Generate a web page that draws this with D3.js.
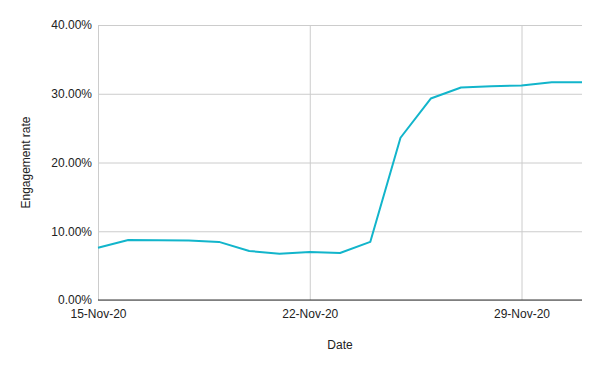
<!DOCTYPE html>
<html lang="en">
<head>
<meta charset="utf-8">
<title>Engagement rate</title>
<script src="https://d3js.org/d3.v7.min.js"></script>
<style>
  body { margin: 0; background: #fff; }
  text { font-family: Arial, "Liberation Sans", sans-serif; }
</style>
</head>
<body>
<script>
// data
var dates = ["2020-11-15", "2020-11-16", "2020-11-17", "2020-11-18", "2020-11-19",
             "2020-11-20", "2020-11-21", "2020-11-22", "2020-11-23", "2020-11-24",
             "2020-11-25", "2020-11-26", "2020-11-27", "2020-11-28", "2020-11-29",
             "2020-11-30", "2020-12-01"];
var rates = [0.076, 0.0873, 0.087, 0.0865, 0.0845, 0.0713, 0.0674, 0.0698, 0.0684, 0.0845,
             0.236, 0.293, 0.309, 0.311, 0.312, 0.3166, 0.3166];
var yTicks = [0, 0.1, 0.2, 0.3, 0.4];
var xTicks = ["2020-11-15", "2020-11-22", "2020-11-29"];

var parse = d3.timeParse("%Y-%m-%d");
var data = dates.map((d, i) => ({date: parse(d), v: rates[i]}));

var W = 600, H = 371;
var m = {left: 98, right: 18, top: 25, bottom: 71};

var svg = d3.select("body").append("svg")
    .attr("width", W)
    .attr("height", H);

var x = d3.scaleTime()
    .domain(d3.extent(data, d => d.date))
    .range([m.left, W - m.right]);

var y = d3.scaleLinear()
    .domain([0, 0.4])
    .range([H - m.bottom, m.top]);

// horizontal gridlines + labels
var yAxis = svg.append("g")
    .attr("transform", "translate(" + m.left + ",0)")
    .call(d3.axisLeft(y)
        .tickValues(yTicks)
        .tickSize(-(W - m.left - m.right))
        .tickPadding(6)
        .tickFormat(d3.format(".2%")));
yAxis.select(".domain").remove();
yAxis.selectAll("line").attr("stroke", "#cccccc");
yAxis.selectAll("text").attr("fill", "#222").style("font-size", "12px");

// vertical gridlines
var xAxis = svg.append("g")
    .attr("transform", "translate(0," + (H - m.bottom) + ")")
    .call(d3.axisBottom(x)
        .tickValues(xTicks.map(parse))
        .tickSize(-(H - m.top - m.bottom))
        .tickPadding(9)
        .tickFormat(d3.timeFormat("%-d-%b-%y")));
xAxis.select(".domain").remove();
xAxis.selectAll("line").attr("stroke", "#cccccc");
xAxis.selectAll("text").attr("fill", "#222").style("font-size", "12px");

// baseline
svg.append("line")
    .attr("x1", m.left)
    .attr("x2", W - m.right)
    .attr("y1", y(0))
    .attr("y2", y(0))
    .attr("stroke", "#333")
    .attr("stroke-width", 1);

var line = d3.line()
    .x(d => x(d.date))
    .y(d => y(d.v));

svg.append("path")
    .datum(data)
    .attr("d", line)
    .attr("fill", "none")
    .attr("stroke", "#12b5cb")
    .attr("stroke-width", 2)
    .attr("stroke-linejoin", "round");

// axis titles
svg.append("text")
    .attr("x", (m.left + W - m.right) / 2)
    .attr("y", 349)
    .attr("text-anchor", "middle")
    .attr("fill", "#222")
    .style("font-size", "12px")
    .text("Date");

svg.append("text")
    .attr("transform", "translate(30," + ((m.top + H - m.bottom) / 2) + ") rotate(-90)")
    .attr("text-anchor", "middle")
    .attr("fill", "#222")
    .style("font-size", "12px")
    .text("Engagement rate");
</script>
</body>
</html>
